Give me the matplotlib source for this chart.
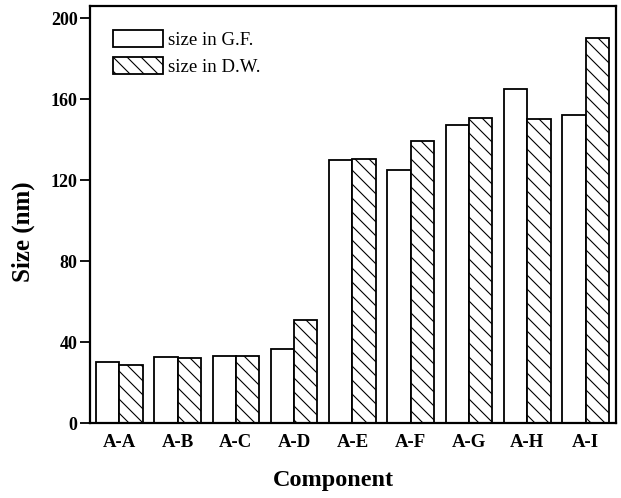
import matplotlib
matplotlib.use("Agg")
import matplotlib.pyplot as plt
import numpy as np

categories = ["A-A", "A-B", "A-C", "A-D", "A-E", "A-F", "A-G", "A-H", "A-I"]
size_gf = [30.3, 32.6, 33.2, 36.7, 129.9, 124.9, 147.5, 165.3, 152.4]
size_dw = [28.8, 32.1, 33.1, 50.9, 130.5, 139.4, 150.6, 150.3, 190.5]
yticks = [0, 40, 80, 120, 160, 200]

DPI = 84
k = 100.0 / DPI  # keep sizes as if at 100 dpi

plt.rcParams['font.family'] = ['Liberation Serif', 'DejaVu Serif']
plt.rcParams['hatch.linewidth'] = 0.8 * k

fig = plt.figure(figsize=(621 / DPI, 498 / DPI), dpi=DPI)
ax = fig.add_axes([0.145, 0.1506, 0.847, 0.837])

x = np.arange(len(categories))
w = 0.40
ax.bar(x - w / 2, size_gf, width=w, facecolor='white', edgecolor='black',
       linewidth=1.3 * k, label='size in G.F.')
ax.bar(x + w / 2, size_dw, width=w, facecolor='white', edgecolor='black',
       linewidth=1.3 * k, hatch='\\\\', label='size in D.W.')

ax.set_xlim(-0.5, 8.52)
ax.set_ylim(0, 206)
ax.set_yticks(yticks)
ax.set_xticks(x)
ax.set_xticklabels(categories, fontsize=13.5 * k, fontweight='bold')
ax.tick_params(axis='x', length=0, pad=8 * k)
ax.tick_params(axis='y', direction='out', length=7 * k, width=1.3 * k,
               labelsize=13 * k, pad=2 * k)
for lab in ax.get_yticklabels():
    lab.set_fontweight('bold')
for s in ax.spines.values():
    s.set_linewidth(1.6 * k)

ax.set_ylabel('Size (nm)', fontsize=18 * k, fontweight='bold')
ax.yaxis.set_label_coords(-0.104, 0.46)
ax.set_xlabel('Component', fontsize=17.5 * k, fontweight='bold')
ax.xaxis.set_label_coords(0.462, -0.113)

ax.legend(loc='upper left', bbox_to_anchor=(0.044, 0.943), frameon=False,
          fontsize=13.5 * k, handlelength=2.67, handleheight=1.05,
          handletextpad=0.27, labelspacing=0.42, borderpad=0, borderaxespad=0)

fig.savefig('out.png', dpi=DPI)
